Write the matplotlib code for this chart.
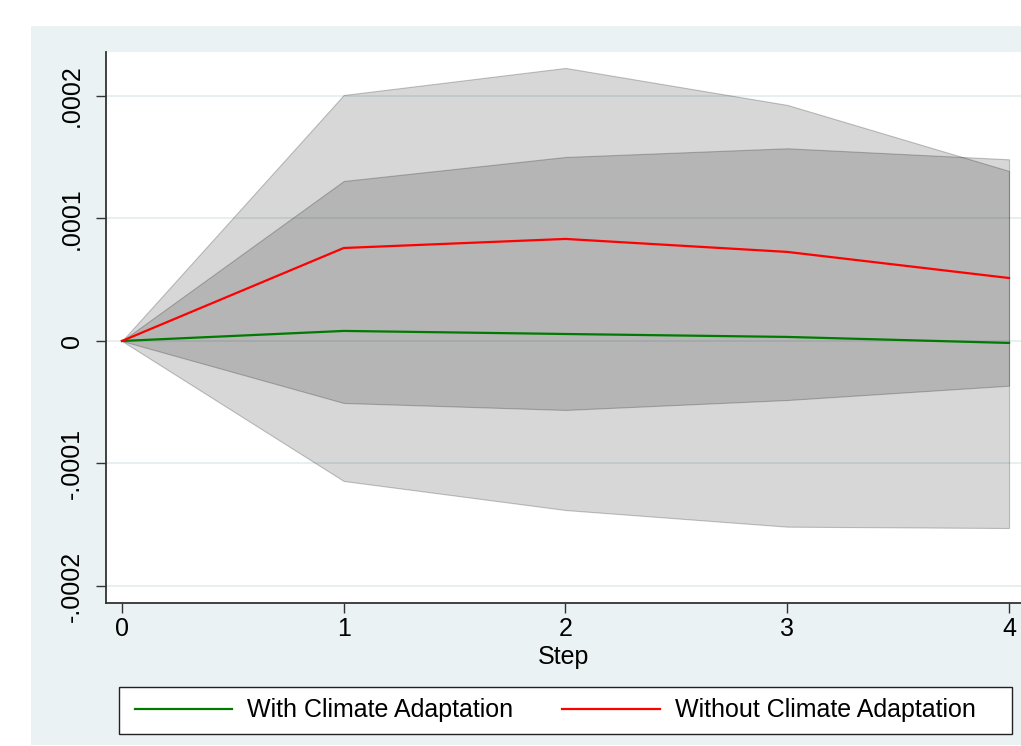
import matplotlib
matplotlib.use("Agg")
import matplotlib.pyplot as plt
from matplotlib.patches import Rectangle

# impulse response by step, in units of 1e-4
steps = [0, 1, 2, 3, 4]
with_irf = [0.0, 0.082, 0.057, 0.033, -0.016]
with_lo = [0.0, -1.143, -1.380, -1.516, -1.527]
with_hi = [0.0, 1.306, 1.502, 1.573, 1.483]
without_irf = [0.0, 0.759, 0.833, 0.727, 0.514]
without_lo = [0.0, -0.506, -0.563, -0.482, -0.365]
without_hi = [0.0, 2.008, 2.229, 1.927, 1.388]

y_ticks = [-2e-4, -1e-4, 0, 1e-4, 2e-4]
y_labels = ["-.0002", "-.0001", "0", ".0001", ".0002"]
x_ticks = [0, 1, 2, 3, 4]
series_names = ["With Climate Adaptation", "Without Climate Adaptation"]

BG = "#eaf2f3"
GRID = "#e4ecef"
FS = 18

plt.rcParams["font.family"] = ["Liberation Sans", "DejaVu Sans"]

fig = plt.figure(figsize=(10.21, 7.46), dpi=100)
fig.patch.set_facecolor("white")
fig.patches.append(Rectangle((31 / 1021, 1 / 746), 1 - 31 / 1021, 719 / 746,
                             transform=fig.transFigure, facecolor=BG,
                             edgecolor="none", zorder=-10))
# legend box
fig.patches.append(Rectangle((119 / 1021, 12 / 746), 893 / 1021, 47 / 746,
                             transform=fig.transFigure, facecolor="white",
                             edgecolor="#222222", linewidth=1.0, zorder=-5))

ax = fig.add_axes([106 / 1021, 143 / 746, 1 - 106 / 1021, 551 / 746])
ax.set_facecolor("white")


def scale(vals):
    return [v * 1e-4 for v in vals]


band_face = (0, 0, 0, 0.157)
band_edge = (0, 0, 0, 0.22)
ax.fill_between(steps, scale(with_lo), scale(with_hi), facecolor=band_face,
                edgecolor=band_edge, linewidth=0.8, zorder=2)
ax.fill_between(steps, scale(without_lo), scale(without_hi), facecolor=band_face,
                edgecolor=band_edge, linewidth=0.8, zorder=2)

ax.plot(steps, scale(with_irf), color="#007a00", lw=1.6, zorder=3, label=series_names[0])
ax.plot(steps, scale(without_irf), color="#ff0000", lw=1.6, zorder=4, label=series_names[1])

ax.set_xlim(-0.072, 4.054)
ax.set_ylim(-2.139e-4, 2.359e-4)
ax.set_yticks(y_ticks)
ax.set_yticklabels(y_labels)
ax.set_xticks(x_ticks)
ax.yaxis.grid(True, color=GRID, lw=1.2, zorder=0)
ax.set_axisbelow(True)

for side in ["top", "right"]:
    ax.spines[side].set_visible(False)
for side in ["left", "bottom"]:
    ax.spines[side].set_color("#333333")
    ax.spines[side].set_linewidth(1.3)

ax.tick_params(axis="both", colors="#333333", labelcolor="black", labelsize=FS,
               length=7, width=1.0)
ax.tick_params(axis="y", pad=9)
ax.tick_params(axis="x", pad=3)
plt.setp(ax.get_yticklabels(), rotation=90, va="center")
ax.set_xlabel("Step", fontsize=FS, labelpad=3)

leg = fig.legend(loc="center", ncol=2,
                 bbox_to_anchor=(555 / 1021, 35.5 / 746),
                 fontsize=FS, handlelength=3.9, handletextpad=0.6,
                 columnspacing=1.95, frameon=False, borderaxespad=0,
                 borderpad=0)

fig.savefig("out.png", dpi=100, facecolor=fig.get_facecolor())
